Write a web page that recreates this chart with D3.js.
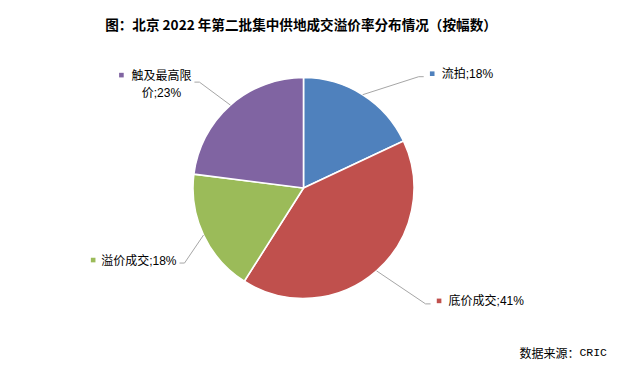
<!DOCTYPE html>
<html>
<head>
<meta charset="utf-8">
<script src="https://cdn.jsdelivr.net/npm/d3@7"></script>
<style>
  html, body { margin: 0; padding: 0; background: #fff; }
  svg { display: block; }
</style>
</head>
<body>
<svg id="chart" width="622" height="368"></svg>
<script>
// Chart content
const title = "图：北京 2022 年第二批集中供地成交溢价率分布情况（按幅数）";
const categories = ["流拍", "底价成交", "溢价成交", "触及最高限价"];
const shares = [18, 41, 18, 23];
const colors = ["#4F81BD", "#C0504D", "#9BBB59", "#8064A2"];
const sourceLabel = "数据来源：";
const sourceName = "CRIC";

// Leader-line elbows, as offsets from the slice edge at its mid angle
const labelLayout = [
  { dx: 56, dy: -18, side: "right", lines: null },
  { dx: 49, dy: 33, side: "right", lines: null },
  { dx: -19, dy: 28, side: "left", lines: null },
  { dx: -31, dy: -23, side: "left", lines: ["触及最高限", "价;23%"] }
];

const svg = d3.select("#chart");
const W = 622, H = 368;
const cx = 303.5, cy = 188, R = 110.5;
const fontCJK = "'Liberation Sans', 'Noto Sans CJK SC', sans-serif";

svg.append("rect").attr("width", W).attr("height", H).attr("fill", "#fff");

// Title
svg.append("text")
  .attr("x", 301).attr("y", 30)
  .attr("text-anchor", "middle")
  .attr("font-family", "'Noto Sans CJK SC', sans-serif")
  .attr("font-weight", "bold")
  .attr("font-size", 13.6)
  .attr("fill", "#000")
  .text(title);

const data = categories.map((c, i) => ({ name: c, value: shares[i], color: colors[i], layout: labelLayout[i] }));

const pie = d3.pie().sort(null).value(d => d.value);
const arcs = pie(data);
const arc = d3.arc().innerRadius(0).outerRadius(R);

const g = svg.append("g").attr("transform", `translate(${cx},${cy})`);

g.selectAll("path.slice")
  .data(arcs)
  .join("path")
  .attr("class", "slice")
  .attr("d", arc)
  .attr("fill", d => d.data.color)
  .attr("stroke", "#fff")
  .attr("stroke-width", 1.6)
  .attr("stroke-linejoin", "round");

// Labels with leader lines
const labels = svg.append("g");
arcs.forEach(a => {
  const mid = (a.startAngle + a.endAngle) / 2;
  const ex = cx + R * Math.sin(mid);
  const ey = cy - R * Math.cos(mid);
  const L = a.data.layout;
  const bx = ex + L.dx, by = ey + L.dy;
  const dir = L.side === "right" ? 1 : -1;
  const tx = bx + dir * 5;

  labels.append("polyline")
    .attr("points", `${ex},${ey} ${bx},${by} ${tx},${by}`)
    .attr("fill", "none")
    .attr("stroke", "#A6A6A6")
    .attr("stroke-width", 1);

  const labelText = `${a.data.name};${a.data.value}%`;
  const lines = L.lines || [labelText];
  const msz = 4.6;

  if (lines.length === 1) {
    const ty = by - 2.5;
    if (dir === 1) {
      labels.append("rect")
        .attr("x", tx + 8.5 - msz / 2).attr("y", ty - msz / 2 - 0.5)
        .attr("width", msz).attr("height", msz)
        .attr("fill", a.data.color);
      labels.append("text")
        .attr("x", tx + 18).attr("y", ty)
        .attr("dominant-baseline", "central")
        .attr("font-family", fontCJK).attr("font-size", 12)
        .attr("fill", "#000")
        .text(lines[0]);
    } else {
      const t = labels.append("text")
        .attr("x", tx - 3).attr("y", ty)
        .attr("text-anchor", "end")
        .attr("dominant-baseline", "central")
        .attr("font-family", fontCJK).attr("font-size", 12)
        .attr("fill", "#000")
        .text(lines[0]);
      const w = t.node().getComputedTextLength();
      labels.append("rect")
        .attr("x", tx - 3 - w - 8 - msz / 2).attr("y", ty - msz / 2 - 0.5)
        .attr("width", msz).attr("height", msz)
        .attr("fill", a.data.color);
    }
  } else {
    // Two-line label sitting left of the tail, lines centred on each other
    const y1 = by - 6.5, y2 = by + 10.5;
    const t1 = labels.append("text")
      .attr("x", tx - 3).attr("y", y1)
      .attr("text-anchor", "end")
      .attr("dominant-baseline", "central")
      .attr("font-family", fontCJK).attr("font-size", 12)
      .attr("fill", "#000")
      .text(lines[0]);
    const w1 = t1.node().getComputedTextLength();
    const centre = tx - 3 - w1 / 2;
    labels.append("text")
      .attr("x", centre).attr("y", y2)
      .attr("text-anchor", "middle")
      .attr("dominant-baseline", "central")
      .attr("font-family", fontCJK).attr("font-size", 12)
      .attr("fill", "#000")
      .text(lines[1]);
    labels.append("rect")
      .attr("x", tx - 3 - w1 - 10 - msz / 2).attr("y", y1 - msz / 2 - 0.5)
      .attr("width", msz).attr("height", msz)
      .attr("fill", a.data.color);
  }
});

// Source note
const src = svg.append("text")
  .attr("x", 607).attr("y", 352)
  .attr("text-anchor", "end")
  .attr("dominant-baseline", "central")
  .attr("font-family", "'Noto Sans CJK SC', sans-serif")
  .attr("font-size", 12)
  .attr("fill", "#000");
src.append("tspan").text(sourceLabel);
src.append("tspan").attr("font-family", "'Liberation Mono', monospace").attr("font-size", 11.5).text(sourceName);
</script>
</body>
</html>
